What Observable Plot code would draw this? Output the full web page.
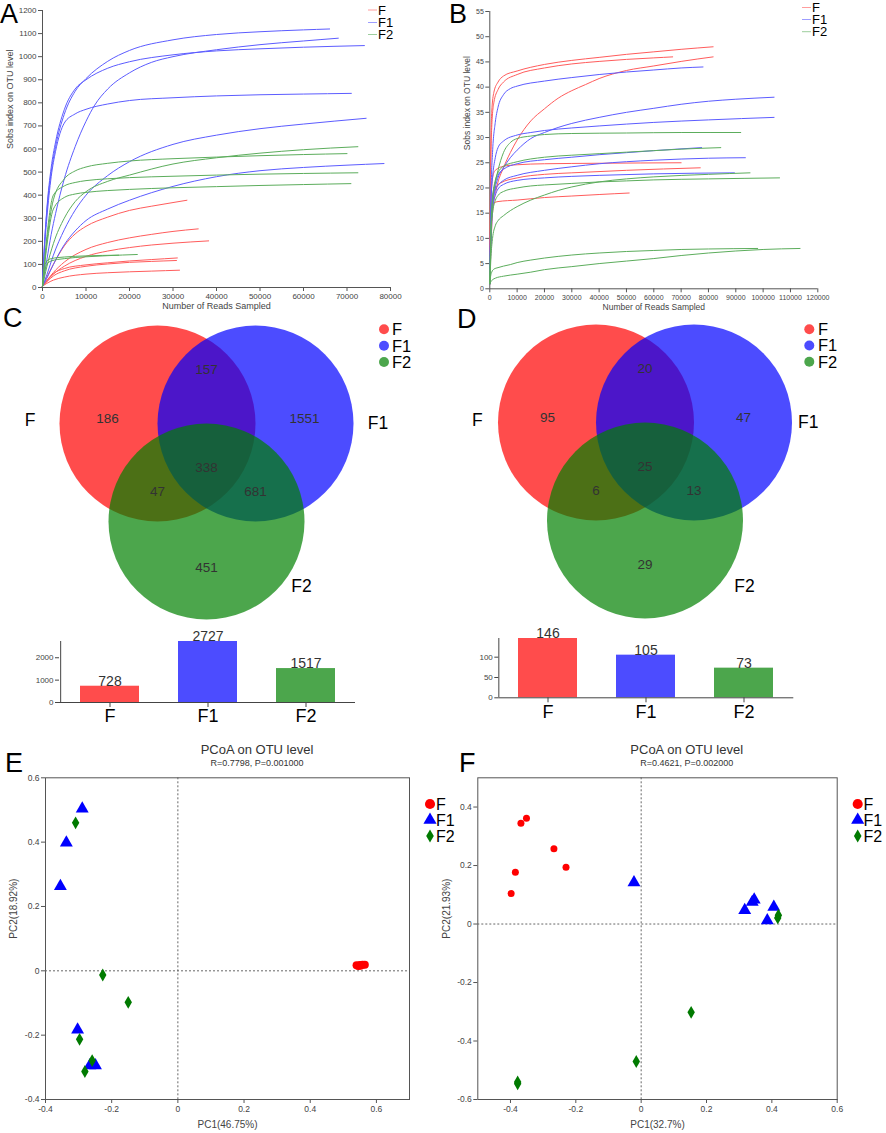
<!DOCTYPE html>
<html><head><meta charset="utf-8">
<script src="https://cdn.jsdelivr.net/npm/d3@7"></script>
<script src="https://cdn.jsdelivr.net/npm/@observablehq/plot@0.6"></script>
<style>
body{margin:0;background:#fff;font-family:"Liberation Sans",Arial,sans-serif}
#page{position:relative;width:886px;height:1133px;overflow:hidden;background:#fff}
#page svg{position:absolute;overflow:visible}
</style></head><body><div id="page"></div>
<script>
const groups = ["F", "F1", "F2"];

// ---------- Panel A: rarefaction (Sobs), reads vs OTUs ----------
const rareA_F = [
  [[0,5],[1000,45],[2500,100],[5000,180],[7500,232],[10000,265],[15000,305],[20000,334],[25000,352],[30000,368],[33200,378]],
  [[0,5],[1000,30],[2500,65],[5000,110],[10000,165],[15000,195],[20000,215],[25000,230],[30000,243],[35800,254]],
  [[0,5],[1000,28],[2500,58],[5000,92],[10000,135],[15000,158],[20000,173],[25000,184],[30000,192],[38200,202]],
  [[0,5],[1000,30],[2500,60],[5000,82],[10000,98],[15000,107],[20000,115],[25000,121],[31000,128]],
  [[0,5],[1000,25],[2500,50],[5000,72],[10000,92],[15000,102],[20000,109],[25000,113],[30800,117]],
  [[0,5],[1000,18],[2500,32],[5000,45],[10000,58],[15000,64],[20000,68],[25000,71],[31500,75]]
];
const rareA_F1 = [
  [[0,5],[500,200],[1000,330],[2000,500],[3000,610],[5000,750],[7500,850],[10000,905],[15000,980],[20000,1027],[30000,1073],[40000,1096],[50000,1108],[60000,1116],[66000,1120]],
  [[0,5],[1000,120],[2000,230],[3000,320],[5000,470],[7500,610],[10000,720],[12000,790],[15000,860],[20000,930],[25000,975],[30000,1000],[40000,1030],[50000,1052],[60000,1068],[68000,1080]],
  [[0,5],[500,200],[1000,340],[2000,520],[3000,630],[5000,770],[7500,860],[10000,900],[15000,950],[20000,978],[30000,1008],[40000,1025],[50000,1034],[60000,1041],[74000,1048]],
  [[0,5],[500,180],[1000,300],[2000,480],[3000,590],[5000,712],[7500,752],[10000,772],[15000,795],[20000,810],[30000,822],[40000,830],[50000,835],[60000,838],[71000,841]],
  [[0,5],[1000,55],[2500,140],[5000,250],[7500,335],[10000,400],[15000,485],[20000,545],[30000,620],[40000,660],[50000,688],[60000,708],[74400,733]],
  [[0,5],[1000,40],[2500,100],[5000,185],[7500,245],[10000,290],[15000,340],[20000,378],[30000,438],[40000,480],[50000,506],[60000,520],[70000,530],[78500,537]]
];
const rareA_F2 = [
  [[0,5],[1000,90],[2500,190],[5000,300],[7500,372],[10000,415],[15000,460],[20000,487],[30000,535],[40000,562],[50000,582],[60000,597],[72500,610]],
  [[0,5],[1000,200],[2500,380],[5000,470],[7500,505],[10000,522],[15000,538],[20000,548],[30000,558],[40000,565],[50000,571],[60000,576],[70000,580]],
  [[0,5],[1000,220],[2500,400],[5000,440],[7500,455],[10000,463],[15000,471],[20000,476],[30000,482],[40000,487],[50000,491],[60000,494],[72500,497]],
  [[0,5],[1000,180],[2500,340],[5000,390],[7500,405],[10000,412],[15000,420],[20000,425],[30000,432],[40000,437],[50000,442],[60000,446],[70900,450]],
  [[0,5],[500,90],[1000,115],[2000,125],[5000,132],[10000,137],[17500,140]],
  [[0,5],[500,70],[1000,100],[2000,115],[5000,125],[10000,133],[15000,138],[21800,143]]
];

// ---------- Panel B: rarefaction ----------
const rareB_F = [
  [[0,1],[300,25],[700,35],[1500,39],[3000,41],[5000,42.2],[10000,43.2],[20000,44.5],[30000,45.3],[40000,45.9],[50000,46.5],[60000,47],[70000,47.5],[81700,48]],
  [[0,1],[300,22],[700,32],[1500,37],[3000,39.5],[5000,41],[10000,42.5],[20000,43.8],[30000,44.6],[40000,45.1],[50000,45.5],[60000,45.8],[66900,46]],
  [[0,1],[1000,15],[2500,20],[5000,24],[7500,27],[10000,29.5],[15000,33.3],[20000,35.7],[25000,37.8],[30000,39.3],[35000,40.5],[40000,41.7],[50000,43.3],[60000,44.2],[70000,45.1],[81700,46]],
  [[0,1],[500,18],[1000,22],[2000,23.5],[5000,24.3],[10000,24.6],[20000,24.8],[40000,24.9],[70000,25]],
  [[0,1],[500,15],[1000,18],[2000,20],[4000,21],[10000,22],[20000,22.7],[30000,23],[50000,23.5],[77000,24]],
  [[0,1],[300,12],[700,15.5],[1500,17],[3000,17.3],[10000,17.6],[20000,18.1],[30000,18.4],[40000,18.7],[51000,19]]
];
const rareB_F1 = [
  [[0,1],[500,20],[1000,27],[2000,33],[3000,36],[5000,38.5],[7500,39.7],[10000,40.2],[20000,41.2],[30000,41.9],[40000,42.5],[50000,43],[60000,43.4],[70000,43.8],[78000,44]],
  [[0,1],[1000,16],[2000,20],[3000,22],[5000,24],[7500,26],[10000,27.5],[15000,29.8],[20000,31],[25000,32],[30000,32.8],[40000,34],[50000,35],[60000,35.8],[70000,36.6],[80000,37.2],[90000,37.6],[104000,38]],
  [[0,1],[500,18],[1000,22],[2000,26],[3000,28],[5000,29.3],[10000,30.5],[15000,31],[20000,31.4],[30000,31.9],[40000,32.3],[60000,33],[80000,33.5],[104000,34]],
  [[0,1],[500,14],[1000,18],[2000,21],[3000,22.5],[5000,23.7],[10000,24.8],[20000,25.6],[30000,26.1],[40000,26.6],[50000,27],[60000,27.4],[77500,28]],
  [[0,1],[500,14],[1000,17],[2000,19.5],[3000,20.5],[5000,21.5],[10000,22.5],[20000,23.5],[30000,24.2],[40000,24.8],[60000,25.5],[80000,25.9],[93500,26]],
  [[0,1],[500,13],[1000,16],[2000,18.5],[3000,19.8],[5000,20.7],[10000,21.5],[20000,22],[30000,22.3],[40000,22.5],[60000,22.8],[89500,23]]
];
const rareB_F2 = [
  [[0,1],[500,12],[1000,17],[2000,21],[3000,23.5],[5000,27],[7500,29],[10000,29.8],[15000,30.3],[20000,30.6],[30000,30.8],[50000,30.9],[70000,31],[91800,31]],
  [[0,1],[500,14],[1000,18],[2000,21.5],[3000,23],[5000,24.3],[10000,25.2],[20000,26.1],[30000,26.5],[40000,26.8],[50000,27.1],[60000,27.4],[70000,27.7],[84500,28]],
  [[0,1],[500,7],[1000,10],[2000,12.5],[3000,13.5],[5000,14.5],[7500,15.5],[10000,16.3],[15000,17.6],[20000,18.6],[25000,19.5],[30000,20.2],[40000,21.2],[50000,21.8],[60000,22.2],[80000,22.7],[95200,23]],
  [[0,1],[500,12],[1000,15],[2000,17.5],[3000,18.5],[5000,19.3],[10000,20],[15000,20.4],[20000,20.6],[30000,20.9],[40000,21.2],[50000,21.4],[60000,21.6],[80000,21.8],[106000,22]],
  [[0,1],[300,2.5],[700,3.3],[1500,3.9],[3000,4.2],[5000,4.5],[7500,4.8],[10000,5.2],[15000,5.7],[20000,6.1],[30000,6.7],[40000,7.1],[50000,7.4],[60000,7.6],[70000,7.8],[80000,7.9],[98000,8]],
  [[0,1],[500,1.5],[1000,1.8],[2000,2.1],[5000,2.5],[10000,2.9],[15000,3.3],[20000,3.8],[30000,4.4],[40000,5.0],[50000,5.5],[60000,6.0],[70000,6.6],[80000,7.1],[90000,7.5],[100000,7.8],[113500,8]]
];

// ---------- Panels C / D: Venn region counts and totals ----------
// order: F only, F1 only, F2 only, F&F1, F&F2, F1&F2, F&F1&F2
const vennCountsC = [186, 1551, 451, 157, 47, 681, 338];
const vennCountsD = [95, 47, 29, 20, 6, 13, 25];
const totalsC = [728, 2727, 1517];
const totalsD = [146, 105, 73];

// ---------- Panels E / F: PCoA coordinates ----------
const pcoaE_F  = [[0.540,0.017],[0.545,0.015],[0.550,0.018],[0.552,0.016],[0.558,0.019],[0.565,0.019]];
const pcoaE_F1 = [[-0.289,0.504],[-0.337,0.398],[-0.355,0.263],[-0.303,-0.183],[-0.266,-0.294],[-0.249,-0.294]];
const pcoaE_F2 = [[-0.309,0.460],[-0.227,-0.013],[-0.150,-0.098],[-0.297,-0.213],[-0.259,-0.279],[-0.281,-0.313]];
const pcoaF_F  = [[-0.351,0.362],[-0.368,0.345],[-0.267,0.257],[-0.230,0.194],[-0.385,0.177],[-0.398,0.104]];
const pcoaF_F1 = [[-0.022,0.142],[0.317,0.047],[0.340,0.075],[0.346,0.083],[0.406,0.058],[0.386,0.012]];
const pcoaF_F2 = [[0.418,0.021],[0.420,0.030],[0.153,-0.302],[-0.015,-0.470],[-0.378,-0.546],[-0.378,-0.540]];

// ---------- styling / layout ----------
const FONT = '"Liberation Sans", Arial, sans-serif';
const lineColors = ["#ff5c5c", "#5c5cff", "#5cad5c"];
const vennColors = ["#ff0000", "#0000ff", "#008000"];
const pointColors = ["#ff0000", "#0000ff", "#007a00"];
// Venn layout in circle-radius units
const vennCircleLayout = [[-0.5, 0], [0.5, 0], [0, 1.0]];
const vennRegionLayoutC = [[-1.01,-0.05],[1.0,-0.05],[0,1.47],[0,-0.55],[-0.5,0.70],[0.5,0.70],[0,0.45]];
const vennRegionLayoutD = [[-0.995,-0.05],[1.005,-0.05],[0,1.45],[0,-0.55],[-0.5,0.70],[0.5,0.70],[0,0.45]];
const vennSetLabelLayoutC = [[-1.80,-0.03],[1.75,0],[0.97,1.66]];
const vennSetLabelLayoutD = [[-1.71,-0.02],[1.665,0],[1.015,1.67]];

const page = document.getElementById("page");
function place(svg, left, top) {
  svg.style.left = left + "px";
  svg.style.top = top + "px";
  svg.style.background = "transparent";
  svg.style.maxWidth = "none";
  page.appendChild(svg);
}

function toRows(byGroup) {
  const rows = [];
  byGroup.forEach((curves, gi) => curves.forEach((pts, ci) =>
    pts.forEach(([x, y]) => rows.push({group: groups[gi], id: groups[gi] + "-" + ci, x, y}))));
  return rows;
}

function rarePlot(o) {
  return Plot.plot({
    width: o.width, height: o.height,
    marginLeft: o.ml, marginRight: o.mr, marginTop: o.mt, marginBottom: o.mb,
    style: {fontFamily: FONT, fontSize: o.tickFont + "px", color: "#555", background: "transparent"},
    x: {domain: [0, o.xMax]},
    y: {domain: [0, o.yMax]},
    color: {domain: groups, range: lineColors},
    marks: [
      Plot.axisX({ticks: d3.range(0, o.xMax + 1, o.xStep), tickFormat: d3.format("d"), tickSize: 4, tickPadding: 2, label: null, fill: "#444"}),
      Plot.axisY({ticks: d3.range(0, o.yMax + 1, o.yStep), tickFormat: d3.format("d"), tickSize: 4, tickPadding: 2, label: null, fill: "#444"}),
      Plot.ruleY([0], {stroke: "#555"}),
      Plot.ruleX([0], {stroke: "#555"}),
      Plot.line(toRows(o.curves), {x: "x", y: "y", z: "id", stroke: "group", strokeWidth: 1, curve: "monotone-x"}),
      Plot.text([o.xLabel], {text: d => d, frameAnchor: "bottom", dy: o.xLabelDy, fontSize: o.labelFont, fill: "#444"}),
      Plot.text([o.yLabel], {text: d => d, frameAnchor: "left", rotate: -90, dx: o.yLabelDx, fontSize: o.labelFont, fill: "#444"})
    ]
  });
}

place(rarePlot({width: 445, height: 320, ml: 42, mr: 55, mt: 10, mb: 33, xMax: 80000, xStep: 10000, yMax: 1200, yStep: 100,
  curves: [rareA_F, rareA_F1, rareA_F2], tickFont: 8, labelFont: 9,
  xLabel: "Number of Reads Sampled", xLabelDy: 21, yLabel: "Sobs index on OTU level", yLabelDx: -32}), 0, 0);

place(rarePlot({width: 446, height: 320, ml: 49.3, mr: 68.7, mt: 11, mb: 31.7, xMax: 120000, xStep: 10000, yMax: 55, yStep: 5,
  curves: [rareB_F, rareB_F1, rareB_F2], tickFont: 7, labelFont: 8.5,
  xLabel: "Number of Reads Sampled", xLabelDy: 21, yLabel: "Sobs index on OTU level", yLabelDx: -23}), 440, 0);

// ---------- Venn ----------
function vennPlot(counts, regionLayout, setLabelLayout, width, cx, cy) {
  const R = 98, H = 300;
  const circles = groups.map((g, i) => ({g, x: vennCircleLayout[i][0], y: vennCircleLayout[i][1], c: vennColors[i]}));
  const regions = counts.map((n, i) => ({n, x: regionLayout[i][0], y: regionLayout[i][1]}));
  const setLabels = groups.map((g, i) => ({g, x: setLabelLayout[i][0], y: setLabelLayout[i][1]}));
  return Plot.plot({
    width, height: H, margin: 0,
    style: {fontFamily: FONT, background: "transparent"},
    x: {domain: [-cx / R, (width - cx) / R], range: [0, width], axis: null},
    y: {domain: [-cy / R, (H - cy) / R], range: [0, H], axis: null},
    marks: [
      Plot.dot(circles, {x: "x", y: "y", r: R, fill: "c", fillOpacity: 0.7, stroke: null}),
      Plot.text(regions, {x: "x", y: "y", text: d => String(d.n), fontSize: 13.5, fill: "#333"}),
      Plot.text(setLabels, {x: "x", y: "y", text: "g", fontSize: 17.5, fill: "#000"})
    ]
  });
}
place(vennPlot(vennCountsC, vennRegionLayoutC, vennSetLabelLayoutC, 445, 206, 103), 0, 320);
place(vennPlot(vennCountsD, vennRegionLayoutD, vennSetLabelLayoutD, 441, 199.5, 102), 445, 320);

// ---------- Bars ----------
function barPlot(totals, o) {
  const rows = totals.map((v, i) => ({g: groups[i], v}));
  const frameW = o.width - o.ml - o.mr;
  const halfStep = frameW / groups.length / 2; // from first band centre to the frame's left edge
  return Plot.plot({
    width: o.width, height: 110, marginLeft: o.ml, marginRight: o.mr, marginTop: o.mt, marginBottom: o.mb,
    style: {fontFamily: FONT, fontSize: "8px", color: "#444", background: "transparent"},
    x: {domain: groups, paddingInner: 0.4, paddingOuter: 0.2},
    y: {domain: [0, d3.max(totals)]},
    color: {domain: groups, range: vennColors},
    marks: [
      Plot.barY(rows, {x: "g", y: "v", fill: "g", fillOpacity: 0.7}),
      Plot.axisY({ticks: o.ticks, tickFormat: d3.format("d"), tickSize: 4, tickPadding: 2, label: null, fill: "#444"}),
      Plot.axisX({tickSize: 5, tickPadding: 2, fontSize: 18, fill: "#000", label: null}),
      Plot.ruleY([0], {stroke: "#444"}),
      Plot.ruleX([groups[0]], {stroke: "#444", dx: -halfStep}),
      Plot.text(rows, {x: "g", y: "v", text: d => String(d.v), dy: -5, fontSize: 14, fill: "#333"})
    ]
  });
}
place(barPlot(totalsC, {width: 445, ml: 59, mr: 90, mt: 11, mb: 38, ticks: [0, 1000, 2000]}), 0, 630);
place(barPlot(totalsD, {width: 441, ml: 53.3, mr: 92.7, mt: 8, mb: 42.7, ticks: [0, 50, 100]}), 445, 630);

// ---------- PCoA ----------
function pcoaPlot(sets, o) {
  const pts = (arr, g) => arr.map(([x, y]) => ({x, y, g}));
  const fmt = d => String(Math.round(d * 10) / 10);
  return Plot.plot({
    width: o.width, height: 393, marginLeft: o.ml, marginRight: o.mr, marginTop: 37.3, marginBottom: 34,
    style: {fontFamily: FONT, fontSize: "8.5px", color: "#555", background: "transparent"},
    x: {domain: o.xDomain},
    y: {domain: o.yDomain},
    marks: [
      Plot.frame({stroke: "#555"}),
      Plot.axisX({ticks: o.xTicks, tickFormat: fmt, tickSize: 4, tickPadding: 2, label: null, fill: "#444"}),
      Plot.axisY({ticks: o.yTicks, tickFormat: fmt, tickSize: 4, tickPadding: 2, label: null, fill: "#444"}),
      Plot.ruleX([0], {stroke: "#666", strokeDasharray: "2,2"}),
      Plot.ruleY([0], {stroke: "#666", strokeDasharray: "2,2"}),
      Plot.dot(pts(sets[0], "F"), {x: "x", y: "y", symbol: "circle", r: o.rc, fill: pointColors[0], stroke: null}),
      Plot.dot(pts(sets[1], "F1"), {x: "x", y: "y", symbol: "triangle", r: 4.8, fill: pointColors[1], stroke: null}),
      Plot.dot(pts(sets[2], "F2"), {x: "x", y: "y", symbol: "diamond", r: 3.9, fill: pointColors[2], stroke: null}),
      Plot.text([o.xLabel], {text: d => d, frameAnchor: "bottom", dy: 28, fontSize: 10, fill: "#444"}),
      Plot.text([o.yLabel], {text: d => d, frameAnchor: "left", rotate: -90, dx: o.yLabelDx, fontSize: 10, fill: "#444"})
    ]
  });
}
place(pcoaPlot([pcoaE_F, pcoaE_F1, pcoaE_F2], {width: 445, ml: 45, mr: 36, xDomain: [-0.4, 0.7], yDomain: [-0.4, 0.6],
  xTicks: [-0.4, -0.2, 0, 0.2, 0.4, 0.6], yTicks: [-0.4, -0.2, 0, 0.2, 0.4, 0.6], rc: 4,
  xLabel: "PC1(46.75%)", yLabel: "PC2(18.92%)", yLabelDx: -32}), 0, 740);
place(pcoaPlot([pcoaF_F, pcoaF_F1, pcoaF_F2], {width: 441, ml: 32.3, mr: 49.3, xDomain: [-0.5, 0.6], yDomain: [-0.6, 0.5],
  xTicks: [-0.4, -0.2, 0, 0.2, 0.4, 0.6], yTicks: [-0.6, -0.4, -0.2, 0, 0.2, 0.4], rc: 3.5,
  xLabel: "PC1(32.7%)", yLabel: "PC2(21.93%)", yLabelDx: -31}), 445, 740);

// ---------- overlay: panel letters, titles, legends ----------
const ov = d3.select(page).append("svg").attr("width", 886).attr("height", 1133)
  .style("left", "0px").style("top", "0px").style("pointer-events", "none").style("font-family", FONT);
[["A", 0, 23], ["B", 449, 23], ["C", 3, 327], ["D", 457, 328], ["E", 5, 772], ["F", 459, 772]].forEach(([t, x, y]) =>
  ov.append("text").attr("x", x).attr("y", y).attr("font-size", 27).attr("fill", "#000").text(t));

function lineLegend(x, ys) {
  groups.forEach((g, i) => {
    ov.append("line").attr("x1", x).attr("x2", x + 9).attr("y1", ys[i]).attr("y2", ys[i]).attr("stroke", lineColors[i]).attr("stroke-opacity", 0.6).attr("stroke-width", 1);
    ov.append("text").attr("x", x + 10).attr("y", ys[i]).attr("dy", "0.36em").attr("font-size", 13).attr("fill", "#000").text(g);
  });
}
lineLegend(368, [10, 22.5, 34.5]);
lineLegend(802, [7.5, 19.5, 31.7]);

function dotLegend(x, ys, tx) {
  groups.forEach((g, i) => {
    ov.append("circle").attr("cx", x).attr("cy", ys[i]).attr("r", 5).attr("fill", vennColors[i]).attr("fill-opacity", 0.7);
    ov.append("text").attr("x", tx).attr("y", ys[i]).attr("dy", "0.36em").attr("font-size", 16.5).attr("fill", "#000").text(g);
  });
}
dotLegend(384, [329.3, 345.7, 362], 392);
dotLegend(809.3, [329.3, 345.5, 361.7], 818);

const symTypes = [d3.symbolCircle, d3.symbolTriangle, d3.symbolDiamond];
const symAreas = [80, 75, 50];
function symLegend(x, ys, tx) {
  groups.forEach((g, i) => {
    ov.append("path").attr("transform", `translate(${x},${ys[i]})`).attr("d", d3.symbol(symTypes[i], symAreas[i])()).attr("fill", pointColors[i]);
    ov.append("text").attr("x", tx).attr("y", ys[i]).attr("dy", "0.36em").attr("font-size", 16).attr("fill", "#000").text(g);
  });
}
symLegend(430, [804, 820, 836], 436);
symLegend(857.7, [804, 820, 836], 863.5);

function title(cx, sub) {
  ov.append("text").attr("x", cx).attr("y", 749).attr("dy", "0.36em").attr("text-anchor", "middle").attr("font-size", 13).attr("fill", "#333").text("PCoA on OTU level");
  ov.append("text").attr("x", cx).attr("y", 763).attr("dy", "0.36em").attr("text-anchor", "middle").attr("font-size", 9).attr("fill", "#333").text(sub);
}
title(257, "R=0.7798, P=0.001000");
title(686.7, "R=0.4621, P=0.002000");
</script>
</body></html>
